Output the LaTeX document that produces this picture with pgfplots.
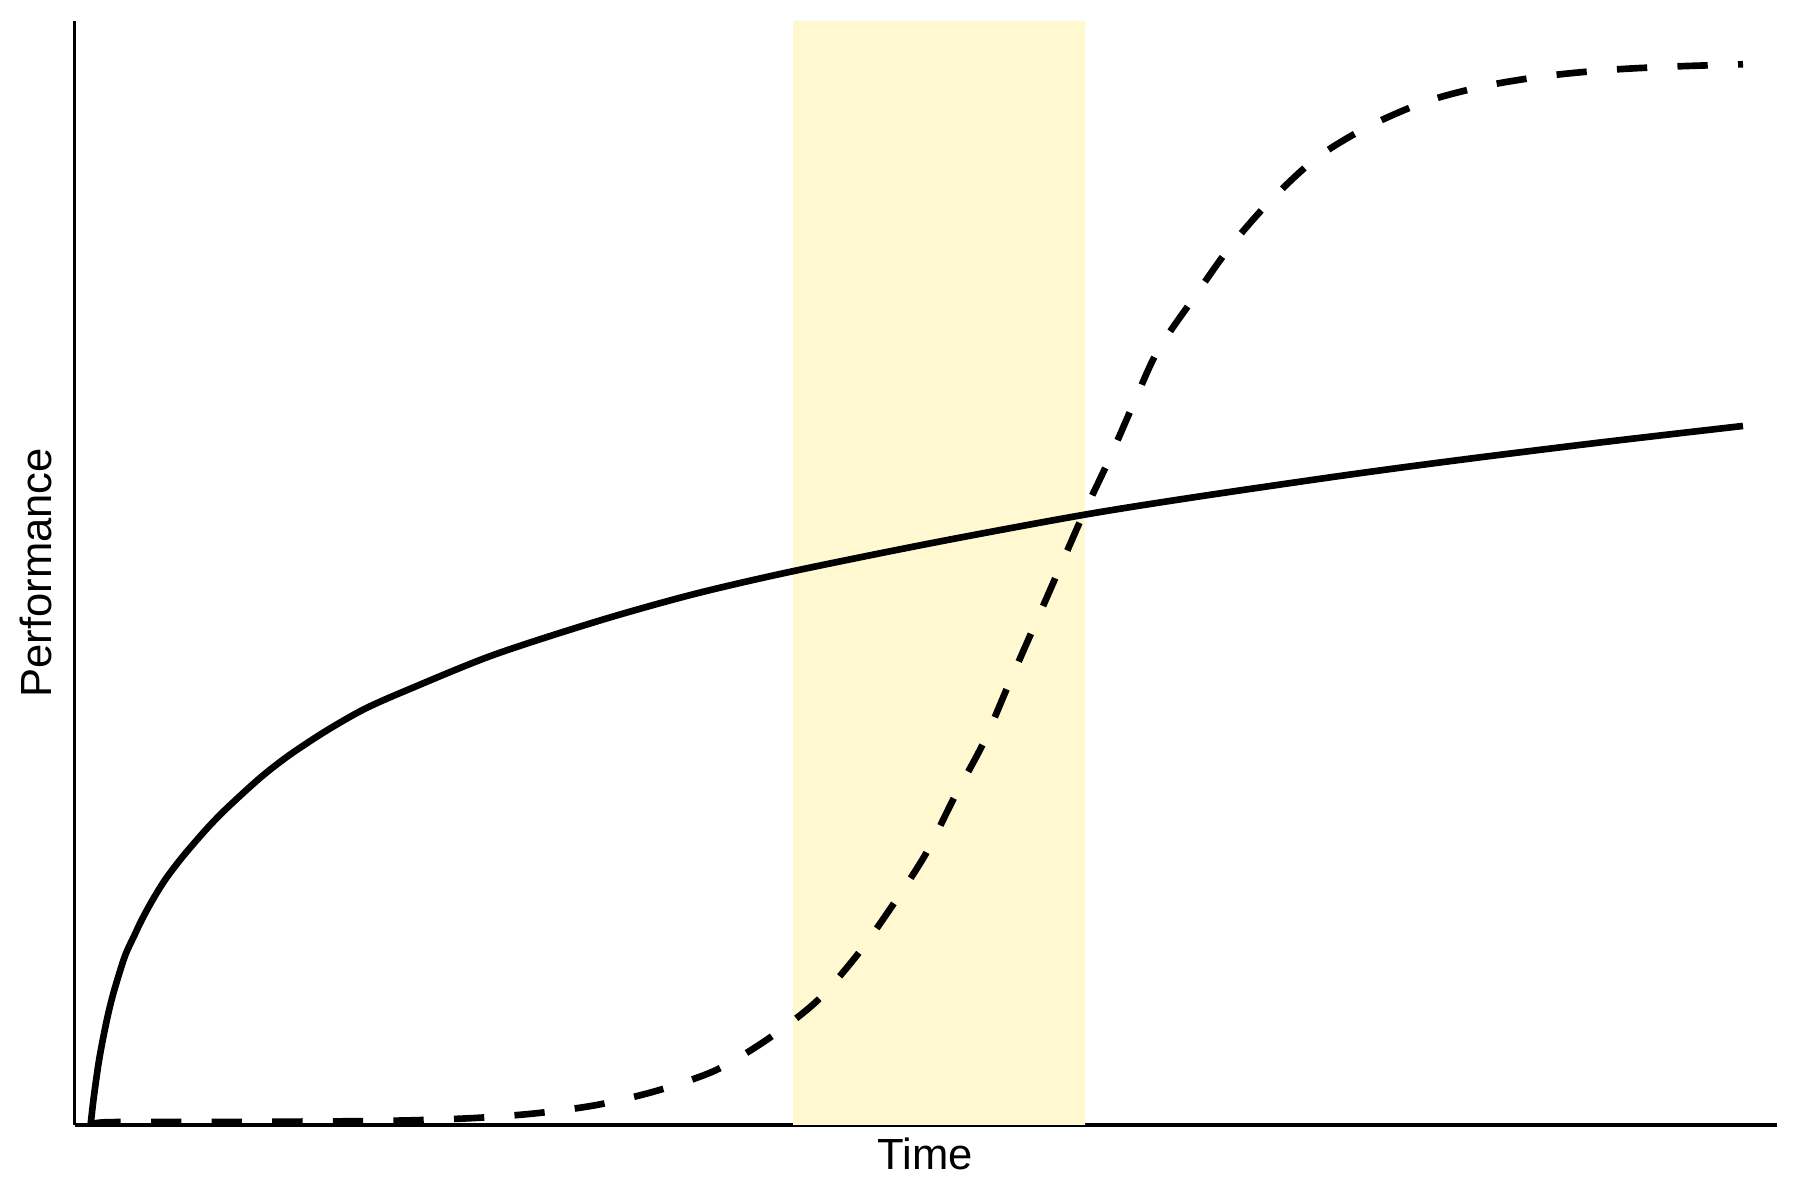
\documentclass[border=0pt]{standalone}
\usepackage{pgfplots}
\pgfplotsset{compat=1.18}
\usepackage{fontspec}
\setmainfont{Liberation Sans}

\definecolor{shade}{RGB}{255,248,208}

% values, in pixel-like units (x: time, y: performance)
\pgfplotstableread{
x      y
16     0
19     26.3
23.7   60
28     84.2
33.8   112
40     136
50.4   169
60     190
67.1   205
78     225
90.4   245
105    264.5
117.1  279
132    296
150.4  315
185.4  347
215    370
251.4  394
290    416
335.2  436
418.9  470
525.4  504.5
620    531
718.2  553.7
860.2  582.5
1008.4 610
1125.4 628.6
1275.4 650.4
1393.4 666.1
1530   683
1668.4 699
}\solid

\pgfplotstableread{
x      y
16     0.6
31.4   2.7
93     3
155    3
216.4  3.3
277.9  3.7
339.9  4.7
401.4  7
462.1  11.7
522.4  20
582.7  34.3
641.8  55
694.4  86.7
742.4  124
783.4  171
818.9  221
851.4  271.5
880.1  328.4
908.8  382
933.4  439
958.4  496
983.4  553
1008.4 610
1033.4 663
1058.4 720
1083   774
1119.4 827.4
1155.4 878
1196   924.5
1242   967
1293.4 998.3
1351.2 1023.3
1410.4 1039
1471.4 1049
1533   1055
1594.2 1058.3
1655.4 1060.3
1668.4 1060.7
}\sigmoid

\begin{document}
\begin{tikzpicture}
\begin{axis}[
    name=ax,
    scale only axis,
    width=5.675in, height=3.681in,
    xmin=0, xmax=1702.4,
    ymin=0, ymax=1104.3,
    axis x line=bottom,
    axis y line=left,
    axis line style={-, line width=0.8pt, black},
    xtick=\empty, ytick=\empty,
    xlabel={Time},
    ylabel={Performance},
    xlabel style={at={(axis description cs:0.4998,-0.0111)}, anchor=north,
        inner sep=0pt, font=\fontsize{10.5}{12.6}\selectfont},
    ylabel style={at={(axis description cs:-0.0135,0.5)}, anchor=base,
        inner sep=0pt, font=\fontsize{10.5}{12.6}\selectfont},
]
\addplot[fill=shade, draw=none]
    coordinates {(718.4,0) (1010.4,0) (1010.4,1104.3) (718.4,1104.3)} \closedcycle;
\addplot[black, line width=1.6pt, smooth] table {\solid};
\addplot[black, line width=1.6pt, smooth, dash pattern=on 7.3pt off 7.3pt] table {\sigmoid};
\end{axis}
\pgfresetboundingbox
\path ([xshift=-0.2487in,yshift=-0.25in]ax.south west)
    rectangle ([xshift=0.0767in,yshift=0.069in]ax.north east);
\end{tikzpicture}
\end{document}
